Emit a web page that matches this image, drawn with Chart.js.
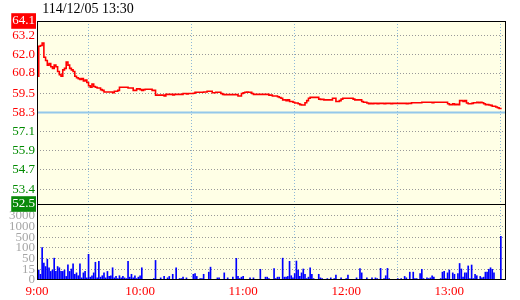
<!DOCTYPE html>
<html>
<head>
<meta charset="utf-8">
<script src="https://cdn.jsdelivr.net/npm/chart.js@4.4.0/dist/chart.umd.min.js"></script>
<style>
  html, body { margin: 0; padding: 0; background: #fff; }
</style>
</head>
<body>
<canvas id="chart" width="520" height="300"></canvas>
<script>
// Intraday quote, one value per minute from 9:00 to 13:30
const titleText = '114/12/05 13:30';
const prevClose = 58.3;
const priceTicks = [52.5, 53.4, 54.7, 55.9, 57.1, 58.3, 59.5, 60.8, 62.0, 63.2, 64.1];
const hourTicks = [0, 60, 120, 180, 240];
const hourLabels = ['9:00', '10:00', '11:00', '12:00', '13:00'];
const volTicks = [0, 15, 50, 100, 500, 1000, 3000];

const prices = [
    60.6, 62.5, 62.55, 62.7, 61.8, 61.6, 61.3, 61.4, 61.2, 61.1,
    61.3, 61.2, 60.9, 60.7, 60.6, 61.0, 61.1, 61.5, 61.3, 61.1,
    61.0, 60.9, 60.6, 60.5, 60.45, 60.4, 60.45, 60.3, 60.35, 60.2,
    60.0, 59.9, 60.1, 59.95, 59.9, 59.85, 59.85, 59.75, 59.7, 59.6,
    59.6, 59.6, 59.6, 59.6, 59.55, 59.65, 59.65, 59.7, 59.9, 59.9,
    59.9, 59.9, 59.9, 59.85, 59.85, 59.85, 59.7, 59.7, 59.8, 59.8,
    59.75, 59.7, 59.75, 59.77, 59.77, 59.77, 59.77, 59.7, 59.7, 59.4,
    59.4, 59.4, 59.4, 59.4, 59.35, 59.45, 59.45, 59.45, 59.45, 59.42,
    59.45, 59.45, 59.45, 59.45, 59.45, 59.5, 59.5, 59.48, 59.5, 59.5,
    59.5, 59.52, 59.58, 59.58, 59.58, 59.58, 59.58, 59.6, 59.6, 59.65,
    59.65, 59.65, 59.55, 59.55, 59.58, 59.58, 59.58, 59.5, 59.45, 59.43,
    59.43, 59.43, 59.43, 59.43, 59.43, 59.43, 59.43, 59.35, 59.35, 59.5,
    59.55, 59.58, 59.6, 59.58, 59.58, 59.5, 59.45, 59.45, 59.45, 59.45,
    59.45, 59.45, 59.45, 59.45, 59.45, 59.4, 59.4, 59.35, 59.35, 59.35,
    59.3, 59.25, 59.2, 59.1, 59.1, 59.05, 59.1, 59.0, 59.0, 58.95,
    58.9, 58.9, 58.85, 58.8, 58.78, 58.78, 58.92, 59.05, 59.2, 59.26,
    59.26, 59.26, 59.26, 59.26, 59.15, 59.13, 59.13, 59.1, 59.1, 59.1,
    59.1, 59.1, 59.2, 59.2, 59.0, 59.0, 59.05, 59.15, 59.2, 59.2,
    59.2, 59.2, 59.2, 59.2, 59.15, 59.1, 59.1, 59.1, 59.1, 59.0,
    58.95, 58.95, 58.9, 58.85, 58.88, 58.85, 58.88, 58.88, 58.85, 58.88,
    58.88, 58.88, 58.85, 58.88, 58.88, 58.88, 58.85, 58.88, 58.88, 58.88,
    58.88, 58.88, 58.88, 58.88, 58.88, 58.85, 58.88, 58.88, 58.92, 58.92,
    58.92, 58.92, 58.92, 58.92, 58.95, 58.95, 58.95, 58.95, 58.95, 58.95,
    58.92, 58.95, 58.95, 58.95, 58.95, 58.95, 58.95, 58.95, 58.95, 58.85,
    58.8, 58.8, 58.85, 58.8, 58.82, 58.8, 59.05, 59.05, 59.0, 59.05,
    58.9, 58.85, 58.85, 58.88, 58.92, 58.92, 58.95, 58.92, 58.95, 58.92,
    58.85, 58.8, 58.8, 58.78, 58.75, 58.7, 58.7, 58.65, 58.6, 58.55,
    58.5
];

const volumes = [
    270, 14, 8, 110, 35, 24, 48, 20, 12, 14,
    52, 12, 24, 20, 12, 12, 14, 5, 30, 12,
    16, 33, 8, 10, 6, 33, 3, 10, 12, 3,
    70, 4, 6, 10, 38, 3, 41, 4, 6, 10,
    3, 12, 5, 6, 20, 3, 5, 2, 6, 3,
    5, 3, 2, 41, 4, 8, 3, 6, 2, 4,
    6, 20, 0, 0, 1, 0, 1, 0, 2, 44,
    0, 0, 3, 0, 5, 0, 3, 5, 0, 8,
    0, 20, 0, 2, 2, 4, 0, 3, 0, 1,
    0, 8, 9, 5, 0, 2, 2, 8, 0, 0,
    11, 22, 0, 0, 1, 3, 3, 0, 0, 10,
    0, 3, 0, 0, 4, 0, 51, 5, 2, 4,
    5, 0, 0, 0, 3, 0, 3, 0, 0, 0,
    15, 0, 0, 4, 4, 2, 0, 0, 17, 2,
    4, 4, 0, 52, 4, 4, 5, 41, 6, 3,
    9, 42, 14, 5, 10, 16, 8, 2, 4, 20,
    8, 2, 0, 0, 8, 3, 2, 0, 1, 2,
    0, 3, 0, 2, 7, 0, 0, 3, 0, 0,
    2, 7, 0, 0, 0, 0, 3, 0, 17, 10,
    0, 1, 3, 1, 0, 3, 0, 3, 2, 0,
    18, 0, 2, 6, 18, 2, 0, 0, 0, 0,
    2, 0, 2, 0, 5, 3, 0, 11, 0, 11,
    2, 2, 0, 9, 15, 2, 0, 3, 2, 3,
    6, 4, 0, 0, 0, 2, 11, 12, 2, 10,
    14, 0, 10, 8, 0, 9, 34, 16, 4, 10,
    10, 26, 2, 29, 2, 8, 6, 0, 5, 3,
    4, 11, 11, 15, 20, 15, 10, 0, 0, 0,
    540
];

const labelFont = { family: "'Liberation Serif', serif", size: 13 };

// volume axis is piecewise: each labelled step gets the same height
function volLevel(v) {
    for (let i = 1; i < volTicks.length; i++) {
        if (v <= volTicks[i]) {
            return i - 1 + (v - volTicks[i - 1]) / (volTicks[i] - volTicks[i - 1]);
        }
    }
    return volTicks.length - 1 + (v - 3000) / 2000;
}

const panelPlugin = {
    id: 'panel',
    beforeDraw(chart) {
        const a = chart.chartArea;
        const ctx = chart.ctx;
        ctx.save();
        ctx.fillStyle = '#ffffe6';
        ctx.fillRect(a.left, a.top, a.right - a.left, a.bottom - a.top);
        ctx.restore();
    },
    afterDraw(chart) {
        const a = chart.chartArea;
        const ctx = chart.ctx;
        const split = Math.round(chart.scales.yp.bottom) + 0.5;
        ctx.save();
        ctx.strokeStyle = '#000';
        ctx.lineWidth = 1;
        ctx.strokeRect(a.left + 0.5, a.top + 0.5, a.right - a.left - 1, a.bottom - a.top - 1);
        ctx.beginPath();
        ctx.moveTo(a.left, split);
        ctx.lineTo(a.right, split);
        ctx.stroke();

        ctx.fillStyle = '#000';
        ctx.font = "14px 'Liberation Serif', serif";
        ctx.textAlign = 'center';
        ctx.textBaseline = 'middle';
        ctx.fillText(titleText, 88, 9);
        ctx.restore();
    }
};

const priceData = prices.map((p, i) => ({ x: i, y: p }));
const volumeData = volumes.map((v, i) => ({ x: i, y: volLevel(v) }));
const closeData = [{ x: 0, y: prevClose }, { x: 273, y: prevClose }];

new Chart(document.getElementById('chart'), {
    type: 'bar',
    data: {
        datasets: [
            {
                type: 'line',
                data: closeData,
                yAxisID: 'yp',
                borderColor: '#94c8ea',
                borderWidth: 2,
                pointRadius: 0,
                order: 3
            },
            {
                type: 'line',
                data: priceData,
                yAxisID: 'yp',
                borderColor: '#ff0000',
                borderWidth: 1.6,
                stepped: true,
                pointRadius: 0,
                order: 1
            },
            {
                type: 'bar',
                data: volumeData,
                yAxisID: 'yv',
                backgroundColor: '#0000ff',
                barThickness: 1,
                grouped: false,
                order: 2
            }
        ]
    },
    options: {
        responsive: false,
        animation: false,
        events: [],
        layout: { padding: { top: 21, right: 14, bottom: 0, left: 0 } },
        plugins: { legend: { display: false }, tooltip: { enabled: false } },
        scales: {
            x: {
                type: 'linear',
                min: 0,
                max: 273,
                offset: false,
                afterBuildTicks: s => { s.ticks = hourTicks.map(v => ({ value: v })); },
                afterFit: s => { s.height = 20; },
                ticks: {
                    autoSkip: false,
                    maxRotation: 0,
                    padding: 4,
                    color: '#ff0000',
                    font: labelFont,
                    callback: v => hourLabels[hourTicks.indexOf(v)]
                },
                grid: {
                    drawTicks: false,
                    color: ctx => (ctx.tick && ctx.tick.value === 0) ? 'rgba(0,0,0,0)' : '#8fb9d9'
                },
                border: { display: false, dash: [1, 2] }
            },
            // left axes on one stack: the one listed later is placed on top
            yv: {
                type: 'linear',
                position: 'left',
                stack: 'panels',
                stackWeight: 76,
                min: 0,
                max: 7.1,
                afterBuildTicks: s => { s.ticks = volTicks.map((v, i) => ({ value: i })); },
                afterFit: s => { s.width = 37; },
                ticks: {
                    autoSkip: false,
                    padding: 2,
                    font: labelFont,
                    color: '#a6a6a6',
                    callback: v => String(volTicks[v])
                },
                grid: {
                    drawTicks: false,
                    color: ctx => (ctx.tick && ctx.tick.value === 0) ? 'rgba(0,0,0,0)' : '#999999'
                },
                border: { display: false, dash: [1, 2] }
            },
            yp: {
                type: 'linear',
                position: 'left',
                stack: 'panels',
                stackWeight: 183,
                min: 52.5,
                max: 64.1,
                afterBuildTicks: s => { s.ticks = priceTicks.map(v => ({ value: v })); },
                afterFit: s => { s.width = 37; },
                ticks: {
                    autoSkip: false,
                    padding: 2,
                    font: labelFont,
                    callback: v => v.toFixed(1),
                    color: ctx => {
                        const i = ctx.index;
                        if (i === 0 || i === priceTicks.length - 1) return '#ffffff';
                        return ctx.tick.value >= prevClose ? '#ff0000' : '#008a00';
                    },
                    showLabelBackdrop: ctx => ctx.index === 0 || ctx.index === priceTicks.length - 1,
                    backdropColor: ctx => ctx.index === 0 ? '#0a8a0a' : '#ff0000',
                    backdropPadding: { x: 1, y: 0 }
                },
                grid: {
                    drawTicks: false,
                    color: ctx => {
                        const v = ctx.tick && ctx.tick.value;
                        if (v === priceTicks[0] || v === priceTicks[priceTicks.length - 1] || v === prevClose) {
                            return 'rgba(0,0,0,0)';
                        }
                        return '#999999';
                    }
                },
                border: { display: false, dash: [1, 2] }
            }
        }
    },
    plugins: [panelPlugin]
});
</script>
</body>
</html>
